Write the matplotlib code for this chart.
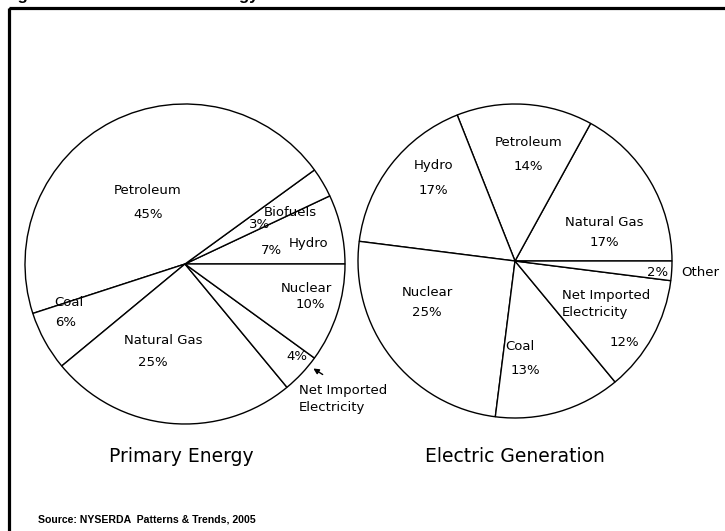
import matplotlib.pyplot as plt
from matplotlib.patches import Rectangle

# Primary energy (left pie), listed counterclockwise from 3 o'clock
primary_names = ['Hydro', 'Biofuels', 'Petroleum', 'Coal', 'Natural Gas',
                 'Net Imported\nElectricity', 'Nuclear']
primary_values = [7, 3, 45, 6, 25, 4, 10]

# Electric generation (right pie), listed counterclockwise from 3 o'clock
electric_names = ['Natural Gas', 'Petroleum', 'Hydro', 'Nuclear', 'Coal',
                  'Net Imported\nElectricity', 'Other']
electric_values = [17, 14, 17, 25, 13, 12, 2]

pie_titles = ['Primary Energy', 'Electric Generation']
title_text = 'Figure 1: New York State Energy Sources'
source_text = 'Source: NYSERDA  Patterns & Trends, 2005'

# label layout in pixel coords: (name x, name y, ha, pct x, pct y)
primary_layout = [
    (309, 244, 'center', 271, 251),
    (290, 212, 'center', 260, 225),
    (148, 190, 'center', 148, 215),
    (69, 302, 'center', 66, 322),
    (163, 340, 'center', 153, 362),
    (299, 399, 'left', 297, 357),
    (306, 288, 'center', 310, 305),
]
electric_layout = [
    (604, 222, 'center', 604, 242),
    (529, 142, 'center', 528, 167),
    (434, 166, 'center', 433, 190),
    (427, 292, 'center', 427, 313),
    (520, 347, 'center', 525, 370),
    (562, 304, 'left', 624, 342),
    (681, 273, 'left', 658, 273),
]

W, H = 725, 531
fig = plt.figure(figsize=(W / 100, H / 100), dpi=100)
ax = fig.add_axes([0, 0, 1, 1])

wp = dict(facecolor='white', edgecolor='black', linewidth=1.0)
ax.pie(primary_values, center=(185, 264), radius=160, startangle=0,
       counterclock=False, wedgeprops=wp)
ax.pie(electric_values, center=(515, 261), radius=157, startangle=0,
       counterclock=False, wedgeprops=wp)

ax.set_xlim(0, W)
ax.set_ylim(H, 0)
ax.set_aspect('auto')
ax.axis('off')

lab = dict(family='DejaVu Sans', fontsize=9.5, color='black')

def put_labels(names, values, layout):
    for name, val, (nx, ny, ha, px, py) in zip(names, values, layout):
        ax.text(nx, ny, name, ha=ha, va='center', linespacing=1.45, **lab)
        ax.text(px, py, f'{val}%', ha='center', va='center', **lab)

put_labels(primary_names, primary_values, primary_layout)
put_labels(electric_names, electric_values, electric_layout)

# little arrow pointing at the 4% slice
ax.annotate('', xy=(311, 367), xytext=(325, 376),
            arrowprops=dict(arrowstyle='-|>', color='black', lw=1.0,
                            mutation_scale=8))

ax.text(181, 456, pie_titles[0], ha='center', va='center',
        family='DejaVu Sans', fontsize=13.5)
ax.text(515, 457, pie_titles[1], ha='center', va='center',
        family='DejaVu Sans', fontsize=13.5)

ax.text(38, 519, source_text, ha='left', va='center',
        family='Liberation Sans', fontweight='bold', fontsize=7.6)

# caption sits above the frame, only its descenders show
ax.text(3, 0, title_text, ha='left', va='baseline',
        family='Liberation Sans', fontweight='bold', fontsize=12)

ax.add_patch(Rectangle((9.5, 8), 800, 600, fill=False, edgecolor='black',
                       linewidth=2.3))

fig.savefig('out.png', dpi=100)
